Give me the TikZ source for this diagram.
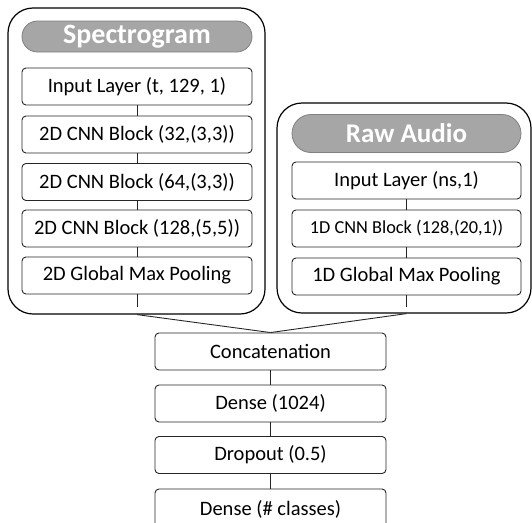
\documentclass[tikz,border=0pt]{standalone}
\usepackage{fontspec}
\setmainfont{Carlito}
\begin{document}
\begin{tikzpicture}[x=1pt,y=-1pt,
  group/.style={draw=black, line width=1.2pt, rounded corners=25pt, inner sep=0pt},
  header/.style={draw=black!50, fill=black!35, text=white, line width=0.8pt,
    inner sep=0pt, font=\fontsize{28}{30}\selectfont\bfseries},
  layer/.style={draw=black!85, line width=0.9pt, rounded corners=4pt, inner sep=0pt,
    minimum width=230pt, minimum height=37pt, font=\fontsize{20.5}{23}\selectfont},
  small/.style={font=\fontsize{18.3}{21}\selectfont},
  link/.style={draw=black!85, line width=0.9pt}]
\useasboundingbox (0,0) rectangle (532,522);

% branch frames
\node[group, minimum width=257pt, minimum height=306pt] (specbox) at (136.5,161) {};
\node[group, minimum width=254pt, minimum height=210pt] (rawbox) at (404,208) {};

% spectrogram branch
\node[header, rounded corners=15.5pt, minimum width=230pt, minimum height=31pt] (spec) at (137,36.5) {Spectrogram};
\node[layer] (sin)   at (137,86.5)  {Input Layer (t, 129, 1)};
\node[layer] (s32)   at (137,134.5) {2D CNN Block (32,(3,3))};
\node[layer] (s64)   at (137,182)   {2D CNN Block (64,(3,3))};
\node[layer] (s128)  at (137,228.5) {2D CNN Block (128,(5,5))};
\node[layer] (spool) at (137,275.5) {2D Global Max Pooling};

% raw audio branch
\node[header, font=\fontsize{27}{30}\selectfont\bfseries, rounded corners=19pt,
      minimum width=229pt, minimum height=38pt] (raw) at (406.5,133.5) {Raw Audio};
\node[layer, minimum width=229pt] (rin)   at (406.5,180.5) {Input Layer (ns,1)};
\node[layer, minimum width=229pt, small] (r128)  at (406.5,228.5) {1D CNN Block (128,(20,1))};
\node[layer, minimum width=229pt] (rpool) at (406.5,276.5) {1D Global Max Pooling};

% merged head
\node[layer, minimum width=231pt] (cat)  at (270.5,351.5) {Concatenation};
\node[layer, minimum width=231pt] (d1)   at (270.5,403.5) {Dense (1024)};
\node[layer, minimum width=231pt] (drop) at (270.5,455)   {Dropout (0.5)};
\node[layer, minimum width=231pt, minimum height=40pt] (out) at (270.5,509) {Dense (\# classes)};

% stubs below the pooling layers and frame exits
\coordinate (sstub) at (137,307);
\coordinate (rstub) at (406.5,307);
\coordinate (sexit) at (spool.south |- specbox.south);
\coordinate (rexit) at (rpool.south |- rawbox.south);

% connectors
\path[link] (sin) -- (s32);
\path[link] (s32) -- (s64);
\path[link] (s64) -- (s128);
\path[link] (s128) -- (spool);
\path[link] (spool) -- (sstub);
\path[link] (rin) -- (r128);
\path[link] (r128) -- (rpool);
\path[link] (rpool) -- (rstub);
\path[link] (sexit) -- (cat.north);
\path[link] (rexit) -- (cat.north);
\path[link] (cat) -- (d1);
\path[link] (d1) -- (drop);
\path[link] (drop) -- (out);
\end{tikzpicture}
\end{document}
